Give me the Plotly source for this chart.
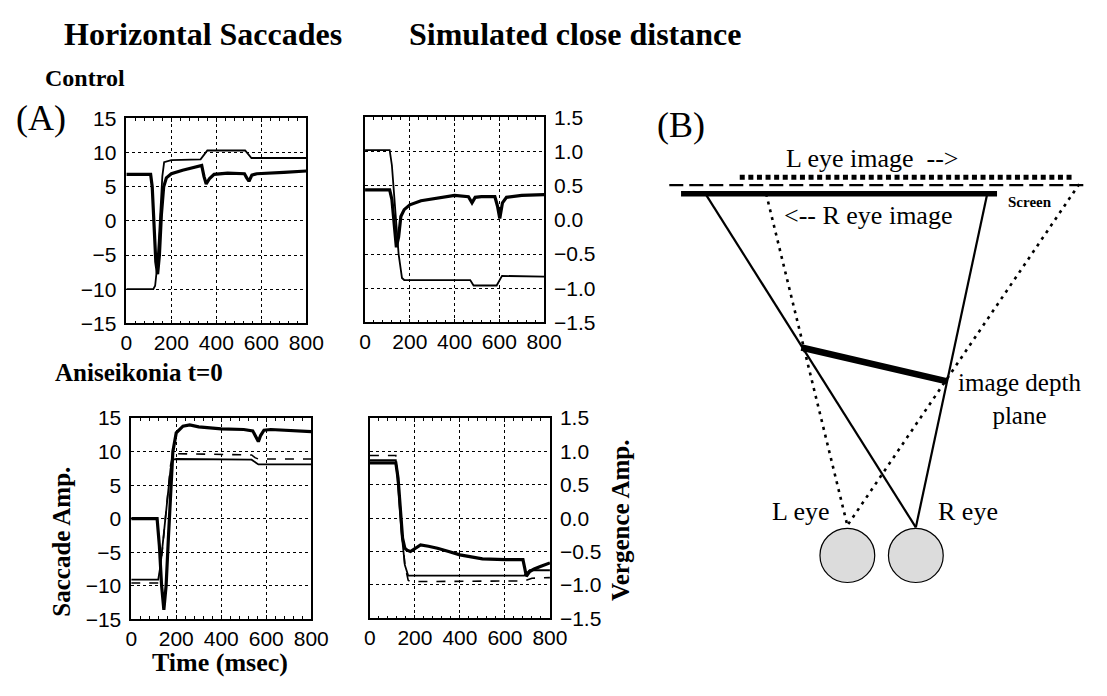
import plotly.graph_objects as go

W, H = 1107, 696

# ---------------- data (time in msec) ----------------
# Control, saccade amplitude (top-left)
tl_thin_t = [0, 120, 128, 136, 144, 152, 160, 168, 200, 330, 345, 360, 528, 542, 556, 800]
tl_thin_v = [-10, -10, -9.5, -7, -3, 2, 6.5, 8.6, 8.9, 9.0, 9.7, 10.3, 10.3, 9.8, 9.2, 9.2]
tl_thick_t = [0, 108, 115, 123, 131, 139, 147, 156, 166, 178, 200, 250, 300, 335, 345, 355,
              370, 390, 450, 525, 535, 545, 558, 580, 700, 800]
tl_thick_v = [6.8, 6.8, 5.0, -1.0, -6.0, -7.8, -5.0, 1.0, 5.0, 6.3, 6.9, 7.4, 7.8, 8.1, 6.5, 5.4,
              6.2, 6.8, 7.0, 6.9, 6.3, 5.8, 6.7, 6.9, 7.1, 7.3]

# Control, vergence amplitude (top-right)
tr_thin_t = [0, 110, 120, 135, 150, 165, 175, 470, 485, 588, 600, 612, 800]
tr_thin_v = [1.02, 1.02, 0.8, 0.1, -0.5, -0.85, -0.88, -0.88, -0.96, -0.96, -0.88, -0.82, -0.83]
tr_thick_t = [0, 110, 120, 130, 140, 150, 160, 175, 200, 250, 300, 400, 462, 478, 492, 520,
              580, 592, 602, 614, 632, 700, 800]
tr_thick_v = [0.44, 0.44, 0.3, -0.1, -0.4, -0.25, 0.05, 0.15, 0.22, 0.28, 0.31, 0.36, 0.34,
              0.25, 0.33, 0.34, 0.34, 0.2, 0.02, 0.25, 0.33, 0.36, 0.37]

# Aniseikonia t=0, saccade amplitude (bottom-left)
bl_thick_t = [0, 115, 125, 135, 145, 155, 165, 175, 185, 200, 230, 260, 300, 400, 500, 540,
              555, 565, 575, 590, 620, 700, 800]
bl_thick_v = [0, 0, -4, -10, -13.6, -10, -3, 4, 10, 12.8, 13.8, 14.0, 13.7, 13.4, 13.3, 13.1,
              12.2, 11.5, 12.4, 13.2, 13.3, 13.2, 13.0]
bl_thin_t = [0, 120, 130, 145, 160, 175, 185, 200, 535, 550, 565, 800]
bl_thin_v = [-9.1, -9.1, -7, -2, 3, 7.5, 8.8, 8.9, 8.8, 8.4, 8.1, 8.1]
bl_dash_t = [0, 120, 130, 145, 160, 175, 185, 200, 535, 550, 565, 800]
bl_dash_v = [-9.6, -9.6, -7.5, -2, 3.5, 8, 9.6, 9.7, 9.5, 9.1, 8.9, 8.9]

# Aniseikonia t=0, vergence amplitude (bottom-right)
br_thick_t = [0, 115, 125, 135, 145, 155, 165, 180, 200, 225, 260, 300, 350, 400, 450, 500,
              600, 680, 688, 695, 710, 730, 760, 800]
br_thick_v = [0.83, 0.83, 0.6, 0.1, -0.3, -0.45, -0.48, -0.5, -0.45, -0.4, -0.42, -0.45, -0.5,
              -0.55, -0.58, -0.61, -0.62, -0.62, -0.75, -0.87, -0.8, -0.76, -0.72, -0.67]
br_thin_t = [0, 115, 125, 140, 155, 170, 180, 685, 695, 710, 800]
br_thin_v = [0.87, 0.87, 0.5, -0.2, -0.7, -0.86, -0.86, -0.86, -0.83, -0.78, -0.78]
br_dash_t = [0, 115, 125, 140, 155, 170, 180, 685, 700, 720, 800]
br_dash_v = [0.94, 0.94, 0.6, -0.1, -0.7, -0.93, -0.95, -0.94, -0.92, -0.9, -0.89]

x_ticks = [0, 200, 400, 600, 800]
sac_ticks = [-15, -10, -5, 0, 5, 10, 15]
verg_ticks = [-1.5, -1.0, -0.5, 0.0, 0.5, 1.0, 1.5]

# Diagram (B) geometry, in page pixels
leye_center = (860, 562)
reye_center = (930, 562)
eye_radius = 28
screen_x = [690, 1013]; screen_y = 188
dash_x = [678, 1103]; dash_y = 179
dots_x = [750, 1092]; dots_y = 171
solid_left = ([715, 930], [188, 533])
solid_right = ([1003, 930], [188, 533])
dotted_left = ([777, 860], [188, 531])
dotted_right = ([1097, 860], [178, 531])
depth_plane = ([813, 962], [347, 382])

# ---------------- helpers ----------------
def px(x):
    return x / W

def py(y):
    return 1 - y / H

SERIF = "Liberation Serif"
SANS = "Liberation Sans"

fig = go.Figure()

def add_line(t, v, ax, width, dash="solid"):
    fig.add_trace(go.Scatter(x=t, y=v, mode="lines", xaxis="x" + ax, yaxis="y" + ax,
                             line=dict(color="black", width=width, dash=dash),
                             showlegend=False, hoverinfo="skip"))

add_line(tl_thin_t, tl_thin_v, "", 1.8)
add_line(tl_thick_t, tl_thick_v, "", 3.2)
add_line(tr_thin_t, tr_thin_v, "2", 1.8)
add_line(tr_thick_t, tr_thick_v, "2", 3.2)
add_line(bl_dash_t, bl_dash_v, "3", 1.6, "dash")
add_line(bl_thin_t, bl_thin_v, "3", 1.8)
add_line(bl_thick_t, bl_thick_v, "3", 3.2)
add_line(br_dash_t, br_dash_v, "4", 1.6, "dash")
add_line(br_thin_t, br_thin_v, "4", 1.8)
add_line(br_thick_t, br_thick_v, "4", 3.2)

def xaxis(dom, anchor):
    return dict(domain=[px(dom[0]), px(dom[1])], anchor=anchor, range=[0, 800],
                tickvals=x_ticks, showgrid=True, gridcolor="black", griddash="dot", gridwidth=1,
                showline=True, linecolor="black", linewidth=1.5, mirror="ticks",
                ticks="inside", ticklen=4, tickcolor="black", zeroline=False,
                minor=dict(dtick=40, tick0=0, ticks="inside", ticklen=3, tickcolor="black",
                           showgrid=False),
                tickfont=dict(family=SANS, size=21, color="black"), fixedrange=True)

def yaxis(dom, anchor, rng, vals, side, fmt):
    return dict(domain=[py(dom[1]), py(dom[0])], anchor=anchor, range=rng, tickvals=vals,
                side=side, tickformat=fmt, showgrid=True, gridcolor="black", griddash="dot",
                gridwidth=1, showline=True, linecolor="black", linewidth=1.5, mirror=True,
                ticks="", zeroline=False, ticklabelstandoff=4,
                tickfont=dict(family=SANS, size=21, color="black"), fixedrange=True)

layout = dict(
    width=W, height=H, margin=dict(l=0, r=0, t=0, b=0),
    paper_bgcolor="white", plot_bgcolor="rgba(0,0,0,0)", showlegend=False,
    xaxis=xaxis((123, 307), "y"),
    yaxis=yaxis((110, 322), "x", [-15, 15], sac_ticks, "left", "d"),
    xaxis2=xaxis((367, 550), "y2"),
    yaxis2=yaxis((109, 321), "x2", [-1.5, 1.5], verg_ticks, "right", ".1f"),
    xaxis3=xaxis((128, 312), "y3"),
    yaxis3=yaxis((420, 628), "x3", [-15, 15], sac_ticks, "left", "d"),
    xaxis4=xaxis((372, 556), "y4"),
    yaxis4=yaxis((420, 627), "x4", [-1.5, 1.5], verg_ticks, "right", ".1f"),
    xaxis5=dict(domain=[px(640), 1], anchor="y5", range=[640, W], visible=False, fixedrange=True),
    yaxis5=dict(domain=[0, 1], anchor="x5", range=[H, 0], visible=False, fixedrange=True),
)
fig.update_layout(**layout)

# ---------------- diagram (B) ----------------
def dline(xs, ys, width, dash="solid"):
    fig.add_trace(go.Scatter(x=xs, y=ys, mode="lines", xaxis="x5", yaxis="y5",
                             line=dict(color="black", width=width, dash=dash),
                             showlegend=False, hoverinfo="skip"))

dline(dots_x, [dots_y, dots_y], 5, "5px,3.6px")
dline(dash_x, [dash_y, dash_y], 2.2, "14px,6px")
dline(screen_x, [screen_y, screen_y], 5.5)
dline(*solid_left, 2.2)
dline(*solid_right, 2.2)
dline(*dotted_left, 2.6, "3px,5px")
dline(*dotted_right, 2.6, "3px,5px")
dline(*depth_plane, 6.5)

for cx, cy in (leye_center, reye_center):
    fig.add_shape(type="circle", xref="x5", yref="y5",
                  x0=cx - eye_radius, x1=cx + eye_radius, y0=cy - eye_radius, y1=cy + eye_radius,
                  line=dict(color="black", width=1.2), fillcolor="rgb(220,220,220)", layer="below")

# ---------------- text ----------------
def text(s, x, y, size, bold=False, family=SERIF, xanchor="left", angle=0, align="left"):
    fig.add_annotation(text=("<b>%s</b>" % s) if bold else s, x=px(x), y=py(y),
                       xref="paper", yref="paper", xanchor=xanchor, yanchor="middle",
                       showarrow=False, textangle=angle, align=align,
                       font=dict(family=family, size=size, color="black"))

text("Horizontal Saccades", 57, 23, 32, True)
text("Simulated close distance", 410, 23, 32, True)
text("Control", 38, 68, 24, True)
text("(A)", 8, 110, 36)
text("Aniseikonia t=0", 48, 373, 25, True)
text("Saccade Amp.", 57, 548, 25, True, xanchor="center", angle=-90)
text("Vergence Amp.", 628, 525, 25, True, xanchor="center", angle=-90)
text("Time (msec)", 219, 673, 26, True, xanchor="center")
text("(B)", 663, 117, 36)
text("L eye image  -->", 795, 152, 26)
text("<-- R eye image", 793, 210, 26)
text("Screen", 1022, 197, 15, True)
text("image depth<br>plane", 1036, 400, 25, xanchor="center", align="center")
text("L eye", 781, 517, 26)
text("R eye", 951, 517, 26)

fig.write_html("out.html")
